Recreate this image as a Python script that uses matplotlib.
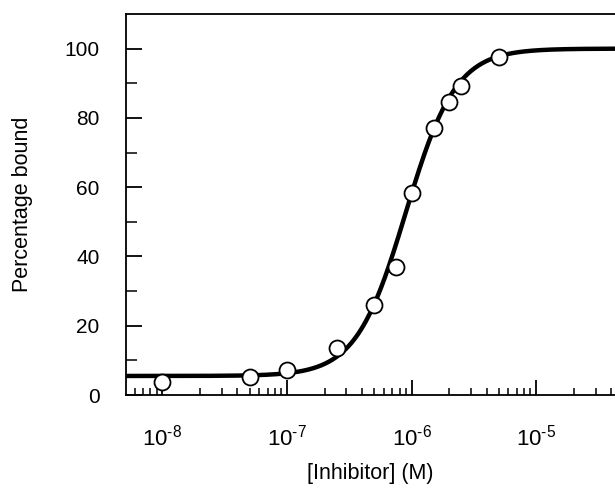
import numpy as np
import matplotlib
matplotlib.use('Agg')
import matplotlib.pyplot as plt
from matplotlib.ticker import LogLocator, FixedLocator, NullFormatter

plt.rcParams['font.family'] = ['Liberation Sans', 'DejaVu Sans']
plt.rcParams['mathtext.fontset'] = 'custom'
plt.rcParams['mathtext.rm'] = 'Liberation Sans'
plt.rcParams['mathtext.it'] = 'Liberation Sans'

# measured points
conc = [1e-8, 5e-8, 1e-7, 2.5e-7, 5e-7, 7.5e-7, 1e-6, 1.5e-6, 2e-6, 2.5e-6, 5e-6]
bound = [3.7, 5.2, 7.2, 13.5, 26.0, 36.9, 58.2, 77.0, 84.7, 89.3, 97.7]

# fitted sigmoid
fit_bottom = 5.5
fit_top = 100.0
fit_ec50 = 9.0e-7
fit_hill = 2.17

x_ticks = [1e-8, 1e-7, 1e-6, 1e-5]
x_ticklabels = ['$10^{\u20108}$', '$10^{\u20107}$', '$10^{\u20106}$', '$10^{\u20105}$']

fig = plt.figure(figsize=(6.15, 4.91), dpi=100)
ax = fig.add_axes([0.205, 0.1955, 0.795, 0.776])

xs = np.logspace(np.log10(5e-9), np.log10(5e-5), 400)
ys = fit_bottom + (fit_top - fit_bottom) / (1 + (fit_ec50 / xs) ** fit_hill)
ax.plot(xs, ys, color='black', lw=3.2, zorder=2)
ax.plot(conc, bound, 'o', ms=11.5, mfc='white', mec='black', mew=1.3,
        zorder=3, clip_on=False)

ax.set_xscale('log')
ax.set_xlim(5.1e-9, 4.3e-5)
ax.set_ylim(0, 110)

ax.xaxis.set_major_locator(FixedLocator(x_ticks))
ax.set_xticklabels(x_ticklabels)
ax.xaxis.set_minor_locator(LogLocator(base=10, subs=np.arange(2, 10)))
ax.xaxis.set_minor_formatter(NullFormatter())
ax.set_yticks([0, 20, 40, 60, 80, 100])
ax.set_yticks([10, 30, 50, 70, 90], minor=True)

ax.tick_params(axis='both', which='major', direction='in', width=1.3,
               color='black')
ax.tick_params(axis='x', which='major', length=11, pad=21, labelsize=16)
ax.tick_params(axis='y', which='major', length=11.5, pad=19, labelsize=15)
ax.tick_params(axis='x', which='minor', direction='in', length=5, width=1.1)
ax.tick_params(axis='y', which='minor', direction='in', length=8, width=1.1)
ax.tick_params(top=False, right=False, which='both')

for side in ['left', 'bottom', 'top']:
    ax.spines[side].set_linewidth(1.3)
ax.spines['right'].set_visible(False)

ax.set_xlabel('[Inhibitor] (M)', fontsize=15.5, labelpad=9)
ax.set_ylabel('Percentage bound', fontsize=15.5, labelpad=23)

fig.savefig('out.png', dpi=100)
